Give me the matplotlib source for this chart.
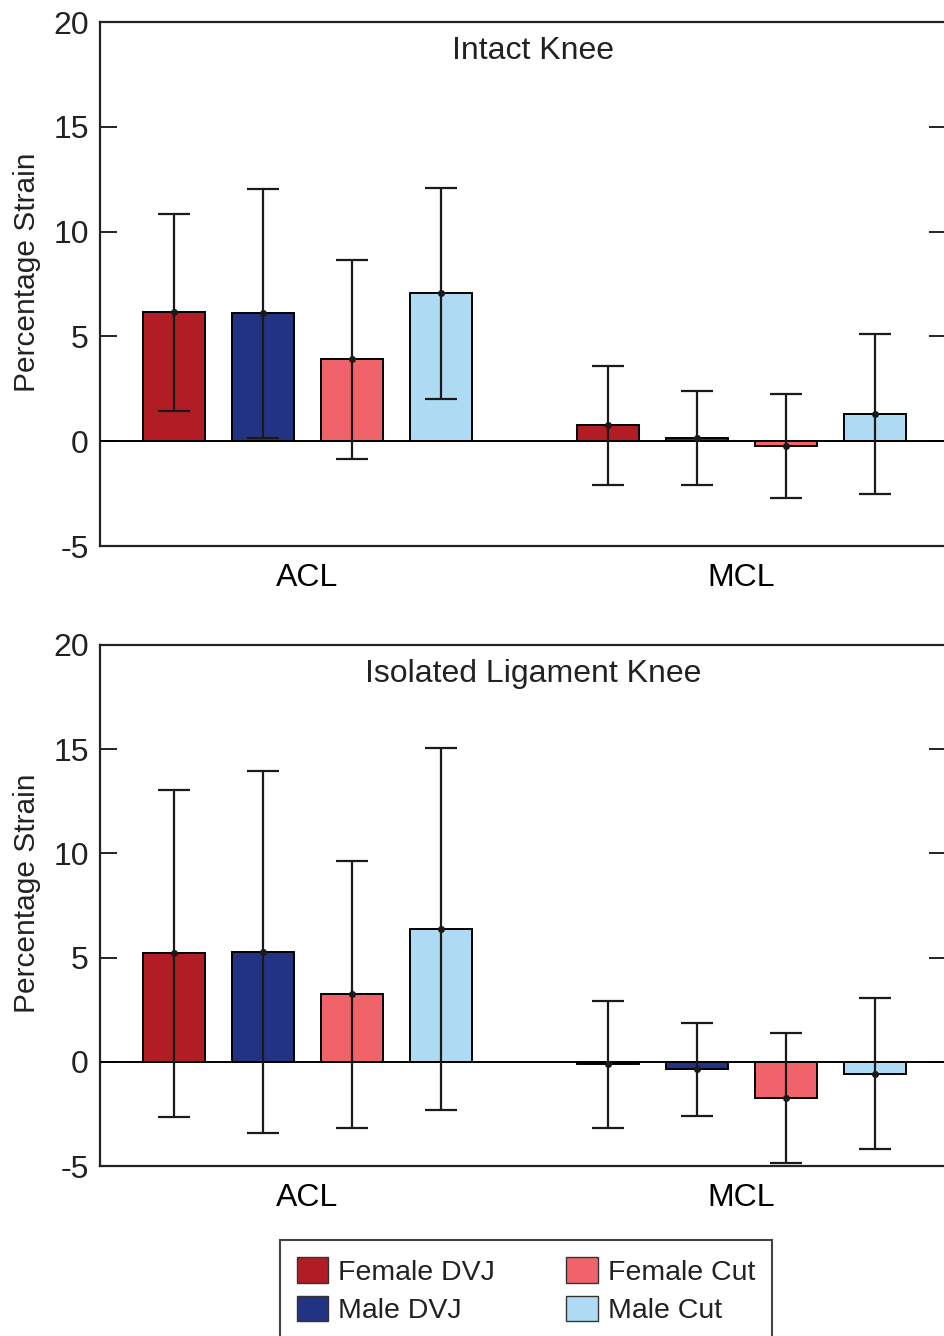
import numpy as np
import matplotlib
matplotlib.use("Agg")
import matplotlib.pyplot as plt
from matplotlib.patches import Patch

plt.rcParams['font.family'] = ['Liberation Sans', 'DejaVu Sans']
plt.rcParams['axes.unicode_minus'] = False

# Daten
groups = ["ACL", "MCL"]
series = ["Female DVJ", "Male DVJ", "Female Cut", "Male Cut"]
colors = ["#B21C24", "#233383", "#F1636B", "#AEDBF3"]

# Intact Knee: Mittelwert und Standardabweichung (ACL, MCL)
intact_mean = [[6.15, 0.76], [6.1, 0.15], [3.9, -0.24], [7.05, 1.3]]
intact_sd = [[4.7, 2.85], [5.95, 2.24], [4.74, 2.48], [5.03, 3.8]]

# Isolated Ligament Knee
iso_mean = [[5.2, -0.12], [5.27, -0.35], [3.23, -1.75], [6.38, -0.58]]
iso_sd = [[7.85, 3.06], [8.7, 2.23], [6.41, 3.13], [8.68, 3.62]]

titles = ["Intact Knee", "Isolated Ligament Knee"]
yticks = [-5, 0, 5, 10, 15, 20]

W, H = 945, 1336
fig = plt.figure(figsize=(W / 100, H / 100), dpi=100)

# Positionen in Pixeln: links, oben, unten, rechts
boxes = [(100, 22, 546, 946), (100, 645, 1166, 946)]

bar_step = 89.0 / 434.5   # Abstand der Balken in Gruppeneinheiten
bar_w = 62.0 / 434.5

def panel(ax, means, sds, title, ylab_y):
    x = np.arange(1, len(groups) + 1)
    for i in range(len(series)):
        off = (i - 1.5) * bar_step
        m = [means[i][g] for g in range(len(groups))]
        s = [sds[i][g] for g in range(len(groups))]
        ax.bar(x + off, m, width=bar_w, color=colors[i], edgecolor="black",
               linewidth=1.4, zorder=2)
        ax.errorbar(x + off, m, yerr=s, fmt="o", color="#1a1a1a", ms=4,
                    ecolor="#1a1a1a", elinewidth=1.6, capsize=11.5, capthick=1.6,
                    zorder=4)
    ax.axhline(0, color="black", lw=1.4, zorder=3)
    ax.set_xlim(1 - 207.5 / 434.5, 2 + 204.5 / 434.5)
    ax.set_ylim(-5, 20)
    ax.set_yticks(yticks)
    ax.set_xticks(x)
    ax.set_xticklabels(groups, fontsize=23)
    ax.tick_params(axis="x", length=0, pad=12)
    ax.tick_params(axis="y", direction="in", length=12, width=1.4,
                   right=True, labelsize=23, pad=8, colors="#222222")
    for sp in ax.spines.values():
        sp.set_linewidth(1.6)
        sp.set_color("#222222")
    ax.set_ylabel("Percentage Strain", fontsize=21.5, color="#222222")
    ax.yaxis.set_label_coords(-0.07, ylab_y)
    ax.text((533 - 100) / 846, 0.945, title, transform=ax.transAxes,
            ha="center", va="center", fontsize=23, color="#222222")

for (l, t, b, r), mean, sd, title in zip(boxes, [intact_mean, iso_mean],
                                         [intact_sd, iso_sd], titles):
    ax = fig.add_axes([l / W, 1 - b / H, (r - l) / W, (b - t) / H])
    panel(ax, mean, sd, title, 0.523)

handles = [Patch(facecolor=c, edgecolor="#333333", linewidth=1.0) for c in colors]
leg = fig.legend(handles, series, ncol=2, loc="upper left",
                 bbox_to_anchor=(280 / W, 1 - 1240 / H), fontsize=20.5,
                 fancybox=False, framealpha=1, edgecolor="#444444",
                 handlelength=1.1, handleheight=1.0, handletextpad=0.35,
                 columnspacing=2.5, labelspacing=0.35, borderpad=0.6,
                 borderaxespad=0)
leg.get_frame().set_linewidth(1.5)
for t in leg.get_texts():
    t.set_color("#222222")

fig.savefig("out.png", dpi=100)
